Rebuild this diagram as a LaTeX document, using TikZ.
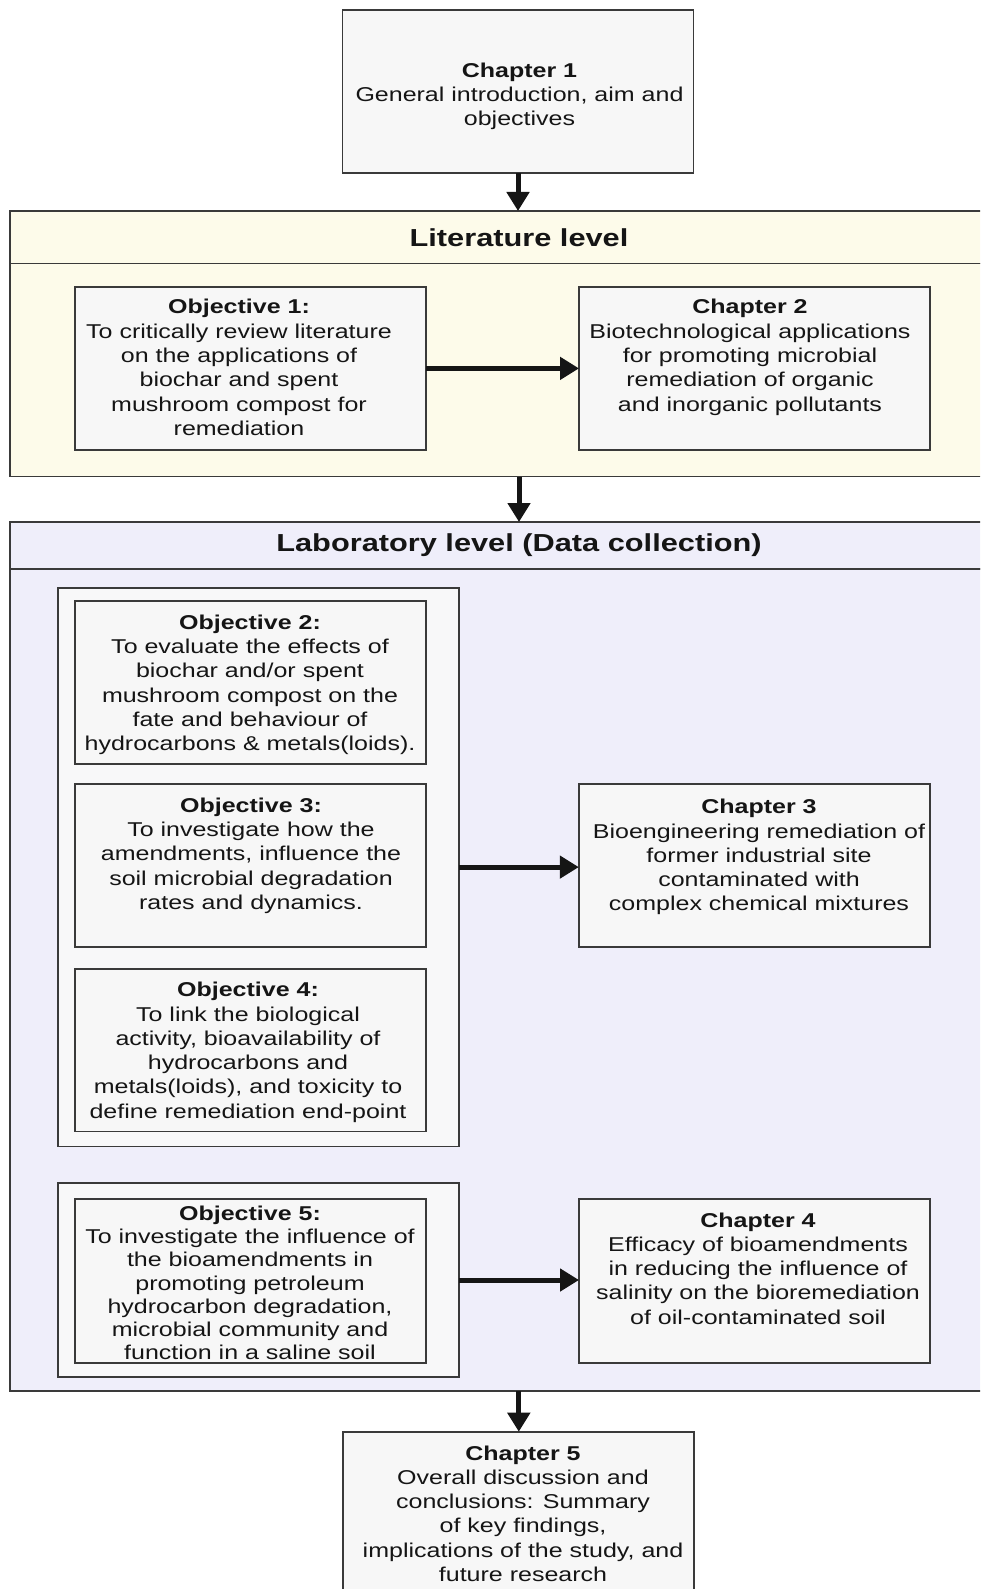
\documentclass[tikz,border=0pt]{standalone}
\usepackage{fontspec}
\setmainfont{Liberation Sans}[FakeStretch=1.25]
\usetikzlibrary{arrows.meta}
\definecolor{edge}{HTML}{3A3A3A}
\definecolor{boxfill}{HTML}{F7F7F7}
\definecolor{litfill}{HTML}{FDFBEA}
\definecolor{labfill}{HTML}{EFEEFA}
\definecolor{groupfill}{HTML}{F8F8F9}
\definecolor{ink}{HTML}{151515}

\begin{document}
\begin{tikzpicture}[x=1pt,y=-1pt,
  panel/.style={draw=edge, line width=1.8pt, rectangle, inner sep=0pt, outer sep=0pt},
  chbox/.style={panel, fill=boxfill, minimum width=351pt},
  grp/.style={panel, fill=groupfill, minimum width=401pt},
  band/.style={panel, minimum width=1018pt},
  bodytext/.style={inner sep=0pt, anchor=north, align=center, text=ink,
    font=\fontsize{20}{24.3}\selectfont},
  headtext/.style={text=ink, font=\bfseries\fontsize{24.6}{29}\selectfont},
  flow/.style={-{Triangle[length=19pt,width=22pt]}, line width=5pt, draw=ink}
]
\useasboundingbox (0,0) rectangle (980,1589);
\clip (0,0) rectangle (980,1589);
\fill[white] (0,0) rectangle (980,1589);

% introduction chapter
\node[chbox, minimum height=163pt] (ch1) at (518,91.5) {};
\node[bodytext] (ch1t) at (519.5,62.7)
  {\textbf{Chapter 1}\\General introduction, aim and\\objectives};

% literature level band
\node[band, fill=litfill, minimum height=52.5pt, headtext] (lithead) at (519,237.25) {Literature level};
\node[band, fill=litfill, minimum height=213pt] (litbody) at (519,370) {};

\node[chbox, minimum height=163pt] (obj1) at (250.5,368.4) {};
\node[bodytext] (obj1t) at (239,299.3)
  {\textbf{Objective 1:}\\To critically review literature\\on the applications of\\biochar and spent\\mushroom compost for\\remediation};
\node[chbox, minimum height=163pt] (ch2) at (754.5,368.4) {};
\node[bodytext] (ch2t) at (750,299.3)
  {\textbf{Chapter 2}\\Biotechnological applications\\for promoting microbial\\remediation of organic\\and inorganic pollutants};

% laboratory level band
\node[band, fill=labfill, minimum height=46.8pt, headtext] (labhead) at (519,545.4) {Laboratory level (Data collection)};
\node[band, fill=labfill, minimum height=822.4pt] (labbody) at (519,980) {};

\node[grp, minimum height=558.8pt] (grp1) at (258.5,867.1) {};
\node[chbox, minimum height=163.3pt] (obj2) at (250.5,682.4) {};
\node[bodytext] (obj2t) at (250,614.5)
  {\textbf{Objective 2:}\\To evaluate the effects of\\biochar and/or spent\\mushroom compost on the\\fate and behaviour of\\hydrocarbons \& metals(loids).};
\node[chbox, minimum height=163pt] (obj3) at (250.5,865.5) {};
\node[bodytext] (obj3t) at (251,797.5)
  {\textbf{Objective 3:}\\To investigate how the\\amendments, influence the\\soil microbial degradation\\rates and dynamics.};
\node[chbox, minimum height=162.5pt] (obj4) at (250.5,1050.3) {};
\node[bodytext] (obj4t) at (248,982)
  {\textbf{Objective 4:}\\To link the biological\\activity, bioavailability of\\hydrocarbons and\\metals(loids), and toxicity to\\define remediation end-point};

\node[chbox, minimum height=163pt] (ch3) at (754.3,865.8) {};
\node[bodytext] (ch3t) at (759,799)
  {\textbf{Chapter 3}\\Bioengineering remediation of\\former industrial site\\contaminated with\\complex chemical mixtures};

\node[grp, minimum height=193.4pt] (grp2) at (258.5,1280) {};
\node[chbox, minimum height=164pt] (obj5) at (250.5,1281.3) {};
\node[bodytext, font=\fontsize{20}{23.1}\selectfont] (obj5t) at (250,1206)
  {\textbf{Objective 5:}\\To investigate the influence of\\the bioamendments in\\promoting petroleum\\hydrocarbon degradation,\\microbial community and\\function in a saline soil};
\node[chbox, minimum height=164pt] (ch4) at (754.5,1281.3) {};
\node[bodytext] (ch4t) at (758,1212.3)
  {\textbf{Chapter 4}\\Efficacy of bioamendments\\in reducing the influence of\\salinity on the bioremediation\\of oil-contaminated soil};

% closing chapter
\node[chbox, minimum height=240pt] (ch5) at (518.8,1551.7) {};
\node[bodytext] (ch5t) at (523,1445.3)
  {\textbf{Chapter 5}\\Overall discussion and\\conclusions: Summary\\of key findings,\\implications of the study, and\\future research};

% connectors
\draw[flow] (ch1.south) -- (ch1.south |- lithead.north);
\draw[flow] (obj1) -- (ch2);
\draw[flow] (litbody.south) -- (labhead.north);
\draw[flow] (grp1.east) -- (grp1.east -| ch3.west);
\draw[flow] (grp2.east) -- (grp2.east -| ch4.west);
\draw[flow] (ch5.north |- labbody.south) -- (ch5.north);
\end{tikzpicture}
\end{document}
